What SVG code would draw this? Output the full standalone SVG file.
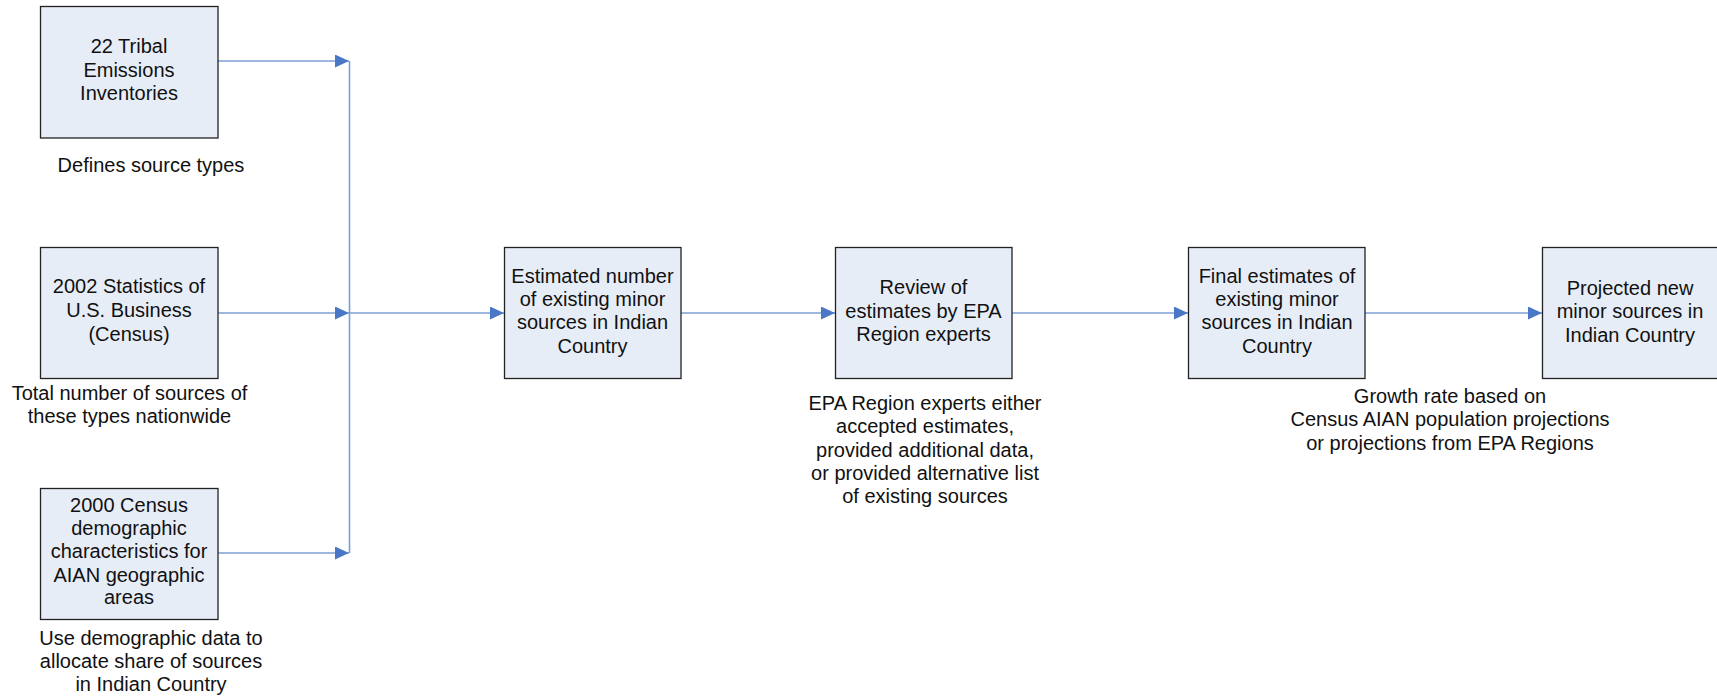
<svg xmlns="http://www.w3.org/2000/svg" width="1717" height="699" viewBox="0 0 1717 699">
<style>
.box{fill:#E7EDF7;stroke:#222;stroke-width:1.3}
.t{font-family:"Liberation Sans",Arial,sans-serif;font-size:20px;fill:#111;text-anchor:middle}
.c{fill:none;stroke:#7E9FD6;stroke-width:1.6}
</style>
<defs>
<marker id="ah" markerWidth="14" markerHeight="13" refX="14" refY="6.5" orient="auto" markerUnits="userSpaceOnUse">
<path d="M0,0 L14,6.5 L0,13 Z" fill="#4A78C6"/>
</marker>
</defs>
<rect width="1717" height="699" fill="#fff"/>
<g id="connectors">
<path class="c" d="M218,61 H349" marker-end="url(#ah)"/>
<path class="c" d="M218,313 H349" marker-end="url(#ah)"/>
<path class="c" d="M218,553 H349" marker-end="url(#ah)"/>
<path class="c" d="M349.5,61 V553"/>
<path class="c" d="M349,313 H504" marker-end="url(#ah)"/>
<path class="c" d="M681,313 H835" marker-end="url(#ah)"/>
<path class="c" d="M1012,313 H1188" marker-end="url(#ah)"/>
<path class="c" d="M1365,313 H1542" marker-end="url(#ah)"/>
</g>
<g id="n1">
<rect class="box" x="40.5" y="6.5" width="177.5" height="131.5"/>
<text class="t" x="129"><tspan x="129" y="53">22 Tribal</tspan><tspan x="129" y="77">Emissions</tspan><tspan x="129" y="100">Inventories</tspan></text>
</g>
<g id="l1"><text class="t" x="151" y="172">Defines source types</text></g>
<g id="n2">
<rect class="box" x="40.5" y="247.5" width="177.5" height="131"/>
<text class="t"><tspan x="129" y="293">2002 Statistics of</tspan><tspan x="129" y="317">U.S. Business</tspan><tspan x="129" y="341">(Census)</tspan></text>
</g>
<g id="l2"><text class="t"><tspan x="129.5" y="400">Total number of sources of</tspan><tspan x="129.5" y="423">these types nationwide</tspan></text></g>
<g id="n3">
<rect class="box" x="40.5" y="488.5" width="177.5" height="131"/>
<text class="t"><tspan x="129" y="512">2000 Census</tspan><tspan x="129" y="535">demographic</tspan><tspan x="129" y="558">characteristics for</tspan><tspan x="129" y="582">AIAN geographic</tspan><tspan x="129" y="604">areas</tspan></text>
</g>
<g id="l3"><text class="t"><tspan x="151" y="645">Use demographic data to</tspan><tspan x="151" y="668">allocate share of sources</tspan><tspan x="151" y="691">in Indian Country</tspan></text></g>
<g id="n4">
<rect class="box" x="504.5" y="247.5" width="176.5" height="131"/>
<text class="t"><tspan x="592.5" y="283">Estimated number</tspan><tspan x="592.5" y="306">of existing minor</tspan><tspan x="592.5" y="329">sources in Indian</tspan><tspan x="592.5" y="353">Country</tspan></text>
</g>
<g id="n5">
<rect class="box" x="835.5" y="247.5" width="176.5" height="131"/>
<text class="t"><tspan x="923.5" y="294">Review of</tspan><tspan x="923.5" y="318">estimates by EPA</tspan><tspan x="923.5" y="341">Region experts</tspan></text>
</g>
<g id="l5"><text class="t"><tspan x="925" y="410">EPA Region experts either</tspan><tspan x="925" y="433">accepted estimates,</tspan><tspan x="925" y="457">provided additional data,</tspan><tspan x="925" y="480">or provided alternative list</tspan><tspan x="925" y="503">of existing sources</tspan></text></g>
<g id="n6">
<rect class="box" x="1188.5" y="247.5" width="176.5" height="131"/>
<text class="t"><tspan x="1277" y="283">Final estimates of</tspan><tspan x="1277" y="306">existing minor</tspan><tspan x="1277" y="329">sources in Indian</tspan><tspan x="1277" y="353">Country</tspan></text>
</g>
<g id="l6"><text class="t"><tspan x="1450" y="403">Growth rate based on</tspan><tspan x="1450" y="426">Census AIAN population projections</tspan><tspan x="1450" y="450">or projections from EPA Regions</tspan></text></g>
<g id="n7">
<rect class="box" x="1542.5" y="247.5" width="177" height="131"/>
<text class="t"><tspan x="1630" y="295">Projected new</tspan><tspan x="1630" y="318">minor sources in</tspan><tspan x="1630" y="342">Indian Country</tspan></text>
</g>
</svg>
